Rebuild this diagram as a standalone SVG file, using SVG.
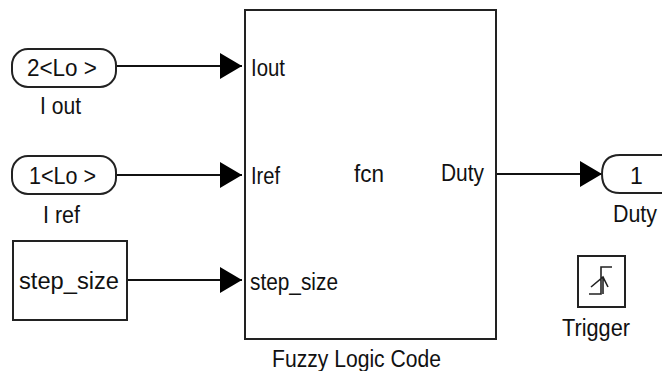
<svg xmlns="http://www.w3.org/2000/svg" width="662" height="371" viewBox="0 0 662 371">
<style>
.b{fill:#fff;stroke:#222;stroke-width:2}
.c{fill:none;stroke:#111;stroke-width:2}
.t{font-family:"Liberation Sans",Arial,sans-serif;font-size:23px;fill:#111}
</style>
<defs><marker id="a" markerUnits="userSpaceOnUse" markerWidth="24" markerHeight="28" refX="23" refY="13" orient="auto"><path d="M1 0L23 13L1 26Z" fill="#000"/></marker></defs>
<rect width="662" height="371" fill="#fff"/>
<g id="connectors">
<path class="c" d="M117 66H242" marker-end="url(#a)"/>
<path class="c" d="M117 175H242" marker-end="url(#a)"/>
<path class="c" d="M127 280H242" marker-end="url(#a)"/>
<path class="c" d="M496 174H602" marker-end="url(#a)"/>
</g>
<g id="goto-iout"><rect class="b" x="12" y="49" width="104" height="38" rx="16"/><text class="t" x="27" y="76" textLength="70" lengthAdjust="spacingAndGlyphs">2&lt;Lo &gt;</text><text class="t" x="40" y="114" textLength="41" lengthAdjust="spacingAndGlyphs">I out</text></g>
<g id="goto-iref"><rect class="b" x="12" y="156" width="104" height="38" rx="16"/><text class="t" x="29" y="184" textLength="67" lengthAdjust="spacingAndGlyphs">1&lt;Lo &gt;</text><text class="t" x="43" y="223" textLength="37" lengthAdjust="spacingAndGlyphs">I ref</text></g>
<g id="step-size"><rect class="b" x="13" y="241" width="114" height="79"/><text class="t" x="19" y="289" textLength="100" lengthAdjust="spacingAndGlyphs">step_size</text></g>
<g id="fuzzy-logic-code"><rect class="b" x="245" y="10" width="251" height="329"/>
<text class="t" x="251" y="76" textLength="34" lengthAdjust="spacingAndGlyphs">Iout</text><text class="t" x="251" y="184" textLength="29" lengthAdjust="spacingAndGlyphs">Iref</text><text class="t" x="250" y="290" textLength="88" lengthAdjust="spacingAndGlyphs">step_size</text><text class="t" x="354" y="182" textLength="30" lengthAdjust="spacingAndGlyphs">fcn</text><text class="t" x="441" y="181" textLength="43" lengthAdjust="spacingAndGlyphs">Duty</text><text class="t" x="272" y="367" textLength="169" lengthAdjust="spacingAndGlyphs">Fuzzy Logic Code</text></g>
<g id="duty"><path class="b" d="M663 155H620Q602 155 602 174Q602 193 620 193H663"/><text class="t" x="630" y="184">1</text><text class="t" x="613" y="222" textLength="44" lengthAdjust="spacingAndGlyphs">Duty</text></g>
<g id="trigger"><rect class="b" x="578" y="256" width="47" height="51"/><path fill="none" stroke="#222" stroke-width="1.6" d="M589 294H601V267H612M591 287L603 277L608 287M603 277V294"/><text class="t" x="562" y="336" textLength="68" lengthAdjust="spacingAndGlyphs">Trigger</text></g>
</svg>
